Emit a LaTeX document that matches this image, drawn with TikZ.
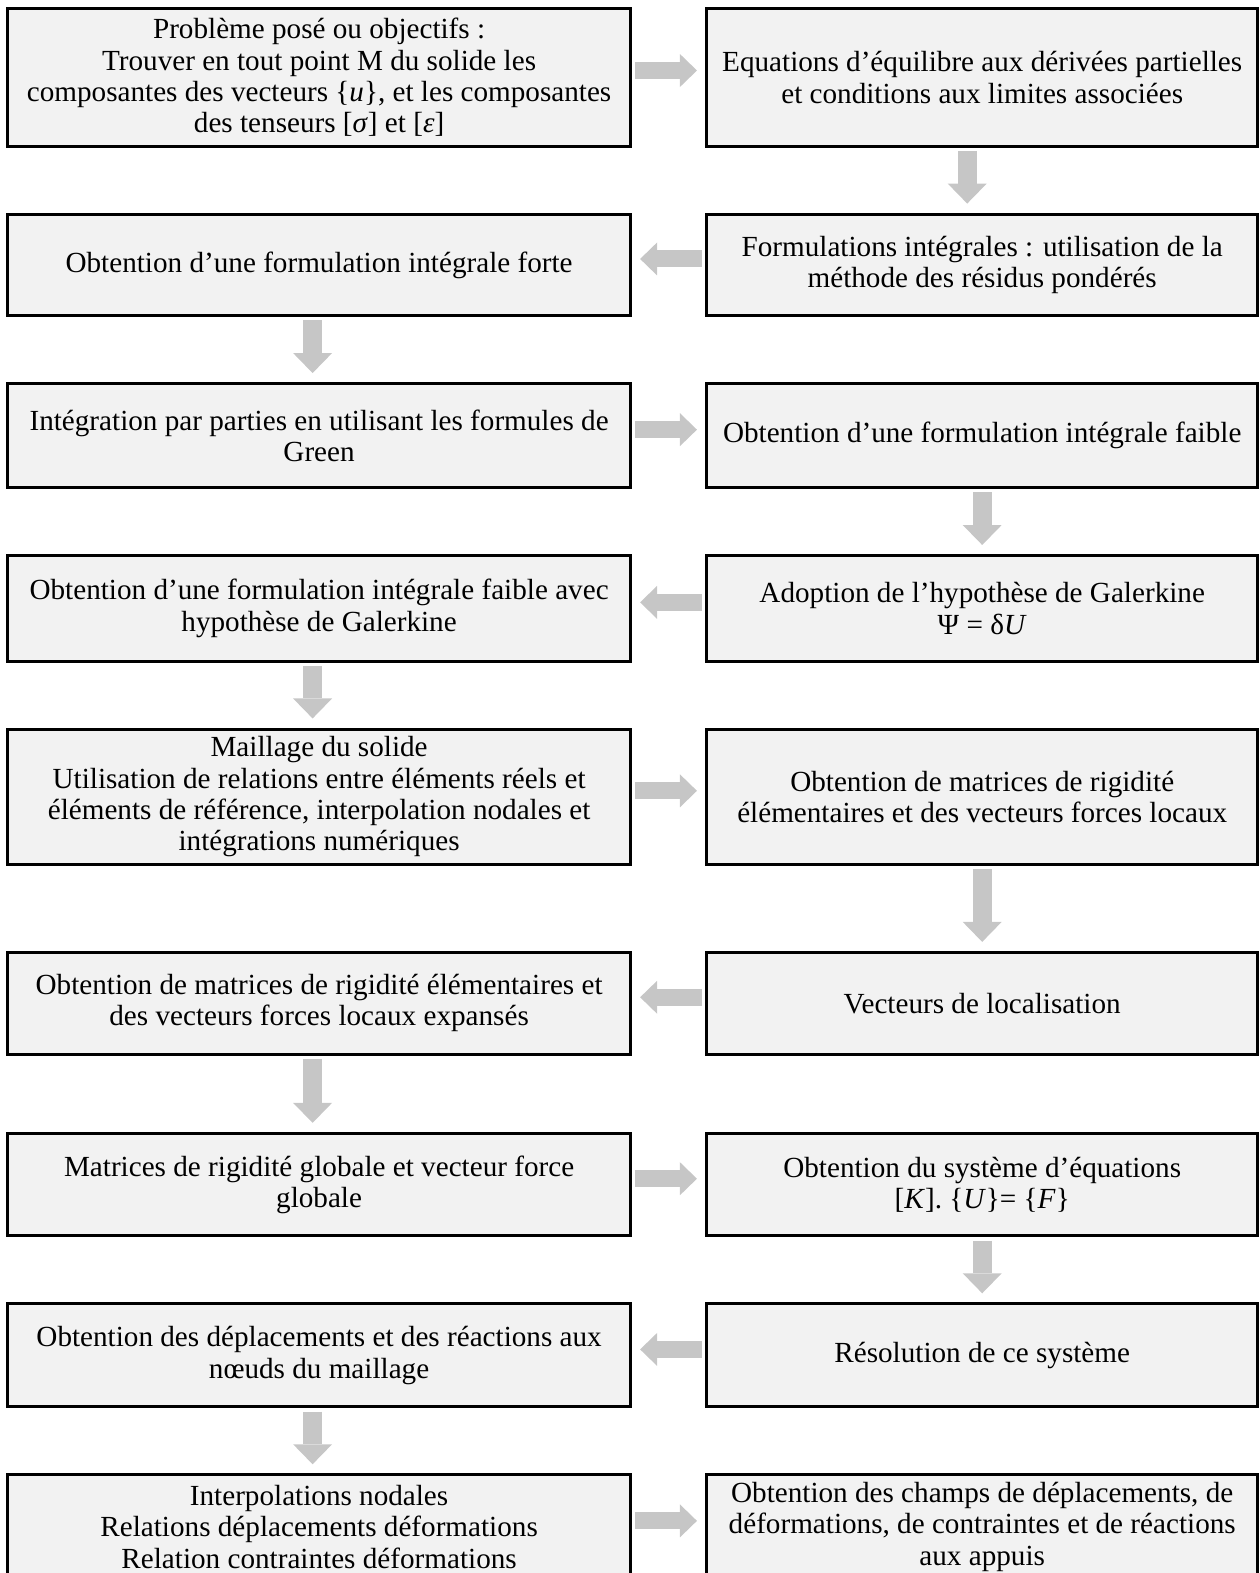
\documentclass[tikz,border=0pt]{standalone}
\usepackage{fontspec}
\setmainfont{Liberation Serif}
\usepackage{xcolor}
\usepackage{tikz}
\usetikzlibrary{arrows.meta, positioning}

\definecolor{boxgray}{HTML}{F2F2F2}
\definecolor{arrowgray}{HTML}{C6C6C6}

\begin{document}
\begin{tikzpicture}[
    x=0.02cm, y=-0.02cm,
    node distance=1.3cm and 1.46cm,
    stage/.style={
        rectangle,
        draw=black, line width=1.7pt,
        fill=boxgray,
        font=\fontsize{16.6}{17.8}\selectfont,
        align=center,
        inner sep=2pt
    },
    leftstage/.style={stage, minimum width=12.46cm},
    rightstage/.style={stage, minimum width=11.03cm},
    harrow/.style={draw=arrowgray, line width=0.34cm,
        -{Triangle[width=0.66cm, length=0.34cm, line width=0pt]},
        shorten <=1.6pt, shorten >=4.6pt},
    varrow/.style={draw=arrowgray, line width=0.38cm,
        -{Triangle[width=0.78cm, length=0.40cm, line width=0pt]},
        shorten <=1.8pt, shorten >=5.2pt}
]

\useasboundingbox (0,0) rectangle (1260,1573);
\clip (0,0) rectangle (1260,1573);

\node[leftstage, minimum height=2.75cm] (prob) at (319.1,77.5)
    {Problème posé ou objectifs :\\
     Trouver en tout point M du solide les\\
     composantes des vecteurs \{\textit{u}\}, et les composantes\\
     des tenseurs [\textit{σ}] et [\textit{ε}]};
\node[rightstage, right=of prob, minimum height=2.75cm] (equil)
    {Equations d’équilibre aux dérivées partielles\\
     et conditions aux limites associées};

\node[leftstage, below=of prob, minimum height=2.03cm] (forte)
    {Obtention d’une formulation intégrale forte};
\node[rightstage, right=of forte, minimum height=2.03cm] (residus)
    {Formulations intégrales : utilisation de la\\
     méthode des résidus pondérés};

\node[leftstage, below=of forte, minimum height=2.08cm] (green)
    {Intégration par parties en utilisant les formules de\\
     Green};
\node[rightstage, right=of green, minimum height=2.08cm] (faible)
    {Obtention d’une formulation intégrale faible};

\node[leftstage, below=of green, minimum height=2.11cm] (faiblegal)
    {Obtention d’une formulation intégrale faible avec\\
     hypothèse de Galerkine};
\node[rightstage, right=of faiblegal, minimum height=2.11cm] (galerkine)
    {Adoption de l’hypothèse de Galerkine\\
     Ψ = δ\textit{U}};

\node[leftstage, below=of faiblegal, minimum height=2.71cm] (maillage)
    {Maillage du solide\\
     Utilisation de relations entre éléments réels et\\
     éléments de référence, interpolation nodales et\\
     intégrations numériques};
\node[rightstage, right=of maillage, minimum height=2.71cm] (elem)
    {Obtention de matrices de rigidité\\
     élémentaires et des vecteurs forces locaux};

\node[leftstage, below=1.7cm of maillage, minimum height=2.03cm] (expanse)
    {Obtention de matrices de rigidité élémentaires et\\
     des vecteurs forces locaux expansés};
\node[rightstage, right=of expanse, minimum height=2.03cm] (localis)
    {Vecteurs de localisation};

\node[leftstage, below=1.53cm of expanse, minimum height=2.05cm] (globale)
    {Matrices de rigidité globale et vecteur force\\
     globale};
\node[rightstage, right=of globale, minimum height=2.05cm] (systeme)
    {Obtention du système d’équations\\
     {[}\textit{K}]. \{\textit{U}\}= \{\textit{F}\}};

\node[leftstage, below=of globale, minimum height=2.06cm] (deplac)
    {Obtention des déplacements et des réactions aux\\
     nœuds du maillage};
\node[rightstage, right=of deplac, minimum height=2.06cm] (resol)
    {Résolution de ce système};

\node[leftstage, below=of deplac, minimum height=2.08cm] (interp)
    {Interpolations nodales\\
     Relations déplacements déformations\\
     Relation contraintes déformations};
\node[rightstage, right=of interp, minimum height=2.08cm] (champs)
    {Obtention des champs de déplacements, de\\
     déformations, de contraintes et de réactions\\
     aux appuis};

% Connecting arrows
\draw[harrow] ([yshift=0.14cm]prob.east) -- ([yshift=0.14cm]equil.west);
\draw[varrow] ([xshift=-0.3cm]equil.south) -- ([xshift=-0.3cm]residus.north);
\draw[harrow] ([yshift=0.12cm]residus.west) -- ([yshift=0.12cm]forte.east);
\draw[varrow] ([xshift=-0.13cm]forte.south) -- ([xshift=-0.13cm]green.north);
\draw[harrow] ([yshift=0.12cm]green.east) -- ([yshift=0.12cm]faible.west);
\draw[varrow] (faible) -- (galerkine);
\draw[harrow] ([yshift=0.12cm]galerkine.west) -- ([yshift=0.12cm]faiblegal.east);
\draw[varrow] ([xshift=-0.13cm]faiblegal.south) -- ([xshift=-0.13cm]maillage.north);
\draw[harrow] ([yshift=0.12cm]maillage.east) -- ([yshift=0.12cm]elem.west);
\draw[varrow] (elem) -- (localis);
\draw[harrow] ([yshift=0.12cm]localis.west) -- ([yshift=0.12cm]expanse.east);
\draw[varrow] ([xshift=-0.13cm]expanse.south) -- ([xshift=-0.13cm]globale.north);
\draw[harrow] ([yshift=0.12cm]globale.east) -- ([yshift=0.12cm]systeme.west);
\draw[varrow] (systeme) -- (resol);
\draw[harrow] ([yshift=0.12cm]resol.west) -- ([yshift=0.12cm]deplac.east);
\draw[varrow] ([xshift=-0.13cm]deplac.south) -- ([xshift=-0.13cm]interp.north);
\draw[harrow] ([yshift=0.12cm]interp.east) -- ([yshift=0.12cm]champs.west);

\end{tikzpicture}
\end{document}
